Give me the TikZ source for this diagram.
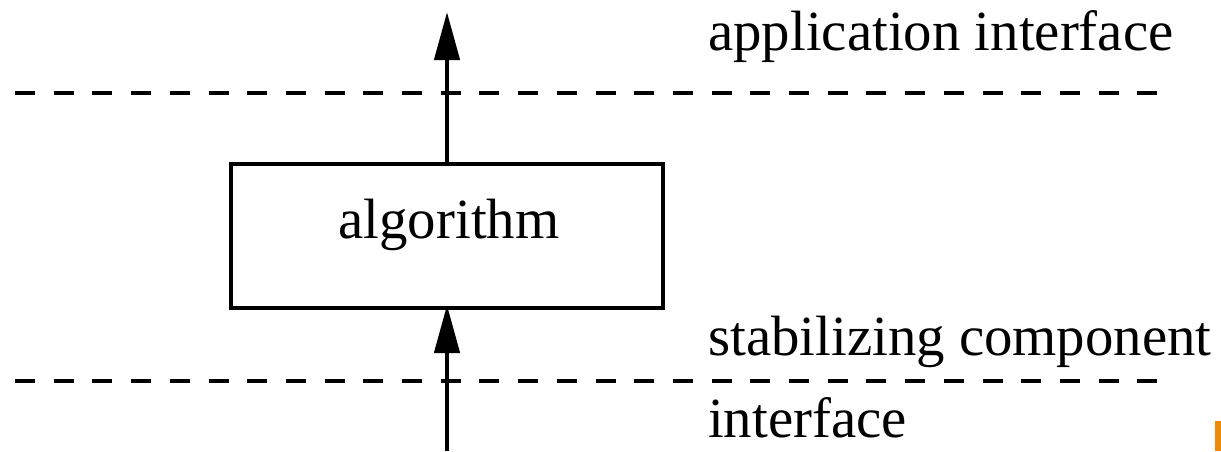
\documentclass[tikz,border=0pt]{standalone}
\usepackage{fontspec}
\setmainfont{Liberation Serif}
\usetikzlibrary{arrows.meta}
\definecolor{markorange}{HTML}{EE8A0A}
\begin{document}
\begin{tikzpicture}[x=1pt,y=-1pt,
  lbl/.style={anchor=base west,inner sep=0pt,font=\fontsize{56.8}{68}\selectfont},
  boxnode/.style={draw,line width=4pt,minimum width=432pt,minimum height=144pt,inner sep=0pt,font=\fontsize{56.8}{68}\selectfont},
  flow/.style={line width=4.5pt,-{Triangle[length=48pt,width=25pt]}},
  sep/.style={line width=4pt,dash pattern=on 20pt off 18.7pt}]
\useasboundingbox (0,0) rectangle (1221,451);
\node[boxnode] (alg) at (447,236) {};
\node[anchor=base,inner sep=0pt,font=\fontsize{56.8}{68}\selectfont] (algtxt) at (449,238) {algorithm};
\coordinate (top) at (447,12);
\coordinate (bot) at (447,451);
\coordinate (a1) at (15,93);
\coordinate (a2) at (1160,93);
\coordinate (b1) at (15,381);
\coordinate (b2) at (1160,381);
\draw[sep] (a1) -- (a2);
\draw[sep] (b1) -- (b2);
\draw[flow] (alg.north) -- (top);
\draw[flow,shorten >=-5pt] (bot) -- (alg.south);
\node[lbl] (app) at (708,50) {application interface};
\node[lbl] (stab) at (708,355) {stabilizing component};
\node[lbl] (intf) at (708,437) {interface};
\fill[markorange] (1215,421) rectangle (1221,451);
\end{tikzpicture}
\end{document}
